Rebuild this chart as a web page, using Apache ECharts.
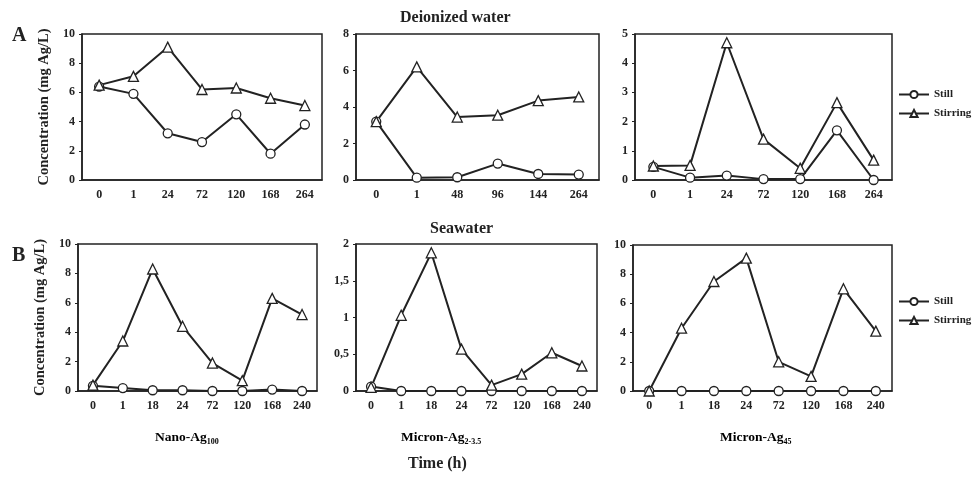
<!DOCTYPE html>
<html>
<head>
<meta charset="utf-8">
<script src="https://cdn.jsdelivr.net/npm/echarts@6/dist/echarts.min.js"></script>
<style>
  html, body { margin: 0; padding: 0; background: #fff; }
  #chart { width: 973px; height: 485px; }
</style>
</head>
<body>
<div id="chart"></div>
<script>
// x categories (time, h)
const catsA1 = ['0', '1', '24', '72', '120', '168', '264']
const catsA2 = ['0', '1', '48', '96', '144', '264']
const catsA3 = ['0', '1', '24', '72', '120', '168', '264']
const catsB = ['0', '1', '18', '24', '72', '120', '168', '240']

// Deionized water
const stillA1 = [6.4, 5.9, 3.2, 2.6, 4.5, 1.8, 3.8]
const stirA1 = [6.5, 7.1, 9.1, 6.2, 6.3, 5.6, 5.1]
const stillA2 = [3.2, 0.13, 0.15, 0.9, 0.33, 0.3]
const stirA2 = [3.2, 6.2, 3.45, 3.55, 4.35, 4.55]
const stillA3 = [0.45, 0.08, 0.15, 0.03, 0.03, 1.7, 0.0]
const stirA3 = [0.48, 0.5, 4.7, 1.4, 0.4, 2.65, 0.68]

// Seawater
const stillB1 = [0.35, 0.2, 0.05, 0.05, 0.0, 0.0, 0.1, 0.0]
const stirB1 = [0.4, 3.4, 8.3, 4.4, 1.9, 0.7, 6.3, 5.2]
const stillB2 = [0.06, 0, 0, 0, 0, 0, 0, 0]
const stirB2 = [0.05, 1.03, 1.88, 0.57, 0.08, 0.23, 0.52, 0.34]
const stillB3 = [0, 0, 0, 0, 0, 0, 0, 0]
const stirB3 = [0, 4.3, 7.5, 9.1, 2.0, 1.0, 7.0, 4.1]

// y ranges [max, interval]
const yRanges = [[10, 2], [8, 2], [5, 1], [10, 2], [2, 0.5], [10, 2]]

const FONT = 'Liberation Serif'
const INK = '#222'

const grids = [
  { left: 82, width: 240, top: 34, height: 146 },
  { left: 356, width: 243, top: 34, height: 146 },
  { left: 635, width: 257, top: 34, height: 146 },
  { left: 78, width: 239, top: 244, height: 147 },
  { left: 356, width: 241, top: 244, height: 147 },
  { left: 633, width: 259, top: 245, height: 146 }
].map(g => ({ ...g, show: true, borderColor: INK, borderWidth: 1.5, backgroundColor: 'transparent' }))

const panels = [
  [catsA1, stillA1, stirA1],
  [catsA2, stillA2, stirA2],
  [catsA3, stillA3, stirA3],
  [catsB, stillB1, stirB1],
  [catsB, stillB2, stirB2],
  [catsB, stillB3, stirB3]
]

const labelStyle = { fontFamily: FONT, fontWeight: 'bold', fontSize: 12, color: INK }

const xAxis = panels.map((p, i) => ({
  type: 'category',
  gridIndex: i,
  data: p[0],
  axisLine: { lineStyle: { color: INK, width: 1.5 } },
  axisTick: { show: false },
  axisLabel: { ...labelStyle, margin: 9, interval: 0 }
}))

const yAxis = yRanges.map((r, i) => ({
  type: 'value',
  gridIndex: i,
  min: 0,
  max: r[0],
  interval: r[1],
  splitLine: { show: false },
  axisLine: { show: true, lineStyle: { color: INK, width: 1.5 } },
  axisTick: { show: true, length: 3, lineStyle: { color: INK } },
  axisLabel: { ...labelStyle, margin: 7, formatter: v => String(v).replace('.', ',') },
  // only the left column carries the axis name
  name: (i === 0 || i === 3) ? 'Concentration (mg Ag/L)' : '',
  nameLocation: 'middle',
  nameGap: 30,
  nameTextStyle: { fontFamily: FONT, fontWeight: 'bold', fontSize: 14.5, color: INK }
}))

const mkSeries = (name, data, i, symbol, size) => ({
  name,
  type: 'line',
  xAxisIndex: i,
  yAxisIndex: i,
  data,
  symbol,
  symbolSize: size,
  showAllSymbol: true,
  lineStyle: { color: INK, width: 2 },
  itemStyle: { color: '#fff', borderColor: INK, borderWidth: 1.3 },
  emphasis: { disabled: true },
  animation: false
})

const series = []
panels.forEach((p, i) => {
  series.push(mkSeries('Still', p[1], i, 'circle', 9))
  series.push(mkSeries('Stirring', p[2], i, 'triangle', 10))
})

const legendBase = {
  orient: 'vertical',
  data: ['Still', 'Stirring'],
  itemWidth: 30,
  itemHeight: 9,
  itemGap: 8,
  textStyle: { fontFamily: FONT, fontWeight: 'bold', fontSize: 11, color: INK },
  selectedMode: false
}

const txt = (text, x, y, size, extra) => ({
  type: 'text', left: x, top: y,
  style: { text, fontFamily: FONT, fontWeight: 'bold', fontSize: size, fill: INK, ...(extra || {}) }
})

const subRich = {
  a: { fontFamily: FONT, fontWeight: 'bold', fontSize: 13.5, color: INK },
  s: { fontFamily: FONT, fontWeight: 'bold', fontSize: 8, color: INK, padding: [8, 0, 0, 0] }
}
const subLabel = (main, sub, x, y) => ({
  type: 'text', left: x, top: y,
  style: { text: '{a|' + main + '}{s|' + sub + '}', rich: subRich }
})

const chart = echarts.init(document.getElementById('chart'))
chart.setOption({
  animation: false,
  grid: grids,
  xAxis,
  yAxis,
  series,
  legend: [
    { ...legendBase, left: 893, top: 84 },
    { ...legendBase, left: 893, top: 291 }
  ],
  graphic: [
    txt('A', 12, 26, 20),
    txt('B', 12, 246, 20),
    txt('Deionized water', 400, 10, 16),
    txt('Seawater', 430, 221, 16),
    subLabel('Nano-Ag', '100', 155, 431),
    subLabel('Micron-Ag', '2-3.5', 401, 431),
    subLabel('Micron-Ag', '45', 720, 431),
    txt('Time (h)', 408, 456, 16)
  ]
})
</script>
</body>
</html>
